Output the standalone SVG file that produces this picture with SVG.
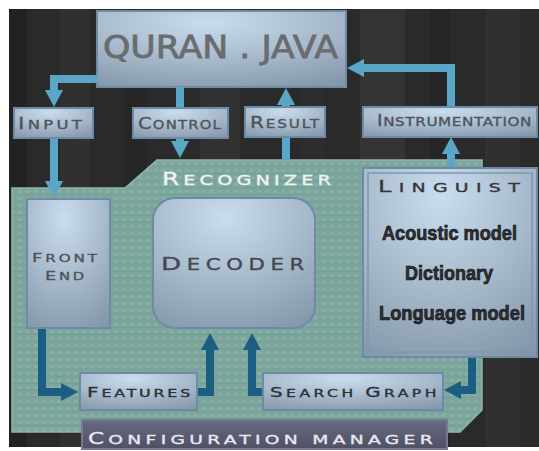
<svg xmlns="http://www.w3.org/2000/svg" width="539" height="451" viewBox="0 0 539 451">
<style>
.lbl{font-family:"DejaVu Sans",sans-serif;fill:#505459;stroke:#505459;stroke-width:0.35;}
.dark{fill:#2e3034;stroke:#2e3034;}
.ling{font-family:"Liberation Sans",Arial,sans-serif;font-weight:bold;font-size:18px;fill:#2f3033;stroke:#111;stroke-width:0.6;}
.box{fill:url(#metal);stroke:#6e8ba6;stroke-width:2;}
.la{fill:none;stroke:#5aa6c7;stroke-width:8;}
.da{fill:none;stroke:#1c5e81;stroke-width:8;}
</style>
<defs>
<radialGradient id="metal" cx="0.45" cy="0.15" r="0.95">
<stop offset="0" stop-color="#c9ddef"/>
<stop offset="0.55" stop-color="#a5b8ca"/>
<stop offset="1" stop-color="#8597aa"/>
</radialGradient>
<linearGradient id="cfg" x1="0" y1="0" x2="0" y2="1">
<stop offset="0" stop-color="#676a80"/>
<stop offset="1" stop-color="#4f5064"/>
</linearGradient>
<pattern id="tex" width="8" height="7" patternUnits="userSpaceOnUse">
<rect width="8" height="7" fill="#7ca69d"/>
<rect x="1" y="1" width="5" height="3" rx="1.5" fill="#86afa6"/>
<rect x="0" y="5" width="8" height="1" fill="#74a096"/>
</pattern>
<marker id="ha" markerUnits="userSpaceOnUse" markerWidth="18" markerHeight="18" viewBox="0 0 18 18" refX="0" refY="9" orient="auto">
<path d="M0,0 L17,9 L0,18 Z" fill="#5aa6c7"/>
</marker>
<marker id="hd" markerUnits="userSpaceOnUse" markerWidth="18" markerHeight="18" viewBox="0 0 18 18" refX="0" refY="9" orient="auto">
<path d="M0,0 L17,9 L0,18 Z" fill="#1c5e81"/>
</marker>
</defs>
<rect width="539" height="451" fill="#ffffff"/>
<g id="background">
<rect x="9" y="9" width="530" height="438" fill="#2a2a2b"/>
<rect x="9" y="9" width="18" height="438" fill="#222223"/>
<rect x="60" y="9" width="30" height="438" fill="#303031"/>
<rect x="125" y="9" width="22" height="438" fill="#262627"/>
<rect x="200" y="9" width="40" height="438" fill="#323233"/>
<rect x="300" y="9" width="25" height="438" fill="#2c2c2d"/>
<rect x="360" y="9" width="45" height="438" fill="#343435"/>
<rect x="430" y="9" width="20" height="438" fill="#262627"/>
<rect x="485" y="9" width="35" height="438" fill="#303031"/>
</g>
<g id="recognizer">
<path d="M12,188 L125,188 L157,160 L482,160 L482,410 L460,432 L12,432 Z" fill="url(#tex)" stroke="#8fb6ad" stroke-width="1.5"/>
<text class="lbl" x="162" y="185" font-size="14" letter-spacing="3" style="fill:#eef2f2;stroke:#eef2f2" textLength="173" lengthAdjust="spacingAndGlyphs"><tspan font-size="18">R</tspan>ECOGNIZER</text>
</g>
<g id="quran">
<rect class="box" x="97" y="11" width="249" height="76"/>
<text x="103" y="58" font-family="DejaVu Sans,sans-serif" font-size="31.5" fill="#6a6c6e" stroke="#6a6c6e" stroke-width="0.8" textLength="235" lengthAdjust="spacingAndGlyphs">QURAN . JAVA</text>
</g>
<g id="connectors">
<path class="la" d="M98,79 H54 V90" marker-end="url(#ha)"/>
<path class="la" d="M54,138 V181" marker-end="url(#ha)"/>
<path class="la" d="M180,87 V108"/>
<path class="la" d="M180,137 V141" marker-end="url(#ha)"/>
<path class="la" d="M286,160 V136"/>
<path class="la" d="M286,108 V105" marker-end="url(#ha)"/>
<path class="la" d="M451,168 V154" marker-end="url(#ha)"/>
<path class="la" d="M451,107 V68 H364" marker-end="url(#ha)"/>
<path class="da" d="M42,328 V392 H61" marker-end="url(#hd)"/>
<path class="da" d="M196,392 H210 V350" marker-end="url(#hd)"/>
<path class="da" d="M264,392 H252 V350" marker-end="url(#hd)"/>
<path class="da" d="M472,357 V390 H461" marker-end="url(#hd)"/>
</g>
<g id="input">
<rect class="box" x="14" y="108" width="79" height="30"/>
<text class="lbl" x="18" y="129" font-size="12.5" letter-spacing="2.5" textLength="67" lengthAdjust="spacingAndGlyphs"><tspan font-size="16.5">I</tspan>NPUT</text>
</g>
<g id="control">
<rect class="box" x="133" y="108" width="95" height="30"/>
<text class="lbl" x="138" y="129" font-size="12.5" letter-spacing="1" textLength="84" lengthAdjust="spacingAndGlyphs"><tspan font-size="16.5">C</tspan>ONTROL</text>
</g>
<g id="result">
<rect class="box" x="245" y="107" width="80" height="30"/>
<text class="lbl" x="250" y="128" font-size="12.5" letter-spacing="1.5" textLength="71" lengthAdjust="spacingAndGlyphs"><tspan font-size="16.5">R</tspan>ESULT</text>
</g>
<g id="instrumentation">
<rect class="box" x="363" y="107" width="174" height="30"/>
<text class="lbl" x="377" y="126" font-size="12.5" letter-spacing="0.5" textLength="155" lengthAdjust="spacingAndGlyphs"><tspan font-size="15.5">I</tspan>NSTRUMENTATION</text>
</g>
<g id="frontend">
<rect class="box" x="27" y="199" width="83" height="129"/>
<text class="lbl" x="32" y="262" font-size="10.5" letter-spacing="2" textLength="68" lengthAdjust="spacingAndGlyphs"><tspan font-size="12.5">F</tspan>RONT</text>
<text class="lbl" x="45" y="280" font-size="10.5" letter-spacing="2" textLength="42" lengthAdjust="spacingAndGlyphs"><tspan font-size="12.5">E</tspan>ND</text>
</g>
<g id="decoder">
<rect class="box" x="153" y="198" width="162" height="130" rx="22" ry="22"/>
<text class="lbl" x="161" y="270" font-size="15" letter-spacing="4" style="fill:#45484d;stroke:#45484d" textLength="149" lengthAdjust="spacingAndGlyphs"><tspan font-size="18.5">D</tspan>ECODER</text>
</g>
<g id="linguist">
<rect class="box" x="363" y="168" width="174" height="189"/>
<rect x="368" y="173" width="164" height="179" fill="none" stroke="#7d98b0" stroke-width="1.5"/>
<text class="lbl" x="378" y="192" font-size="13" letter-spacing="5" style="fill:#35373b;stroke:#35373b" textLength="149" lengthAdjust="spacingAndGlyphs"><tspan font-size="16.5">L</tspan>INGUIST</text>
<text class="ling" transform="translate(382,240) scale(1,1.17)" x="0" y="0" textLength="135" lengthAdjust="spacingAndGlyphs">Acoustic model</text>
<text class="ling" transform="translate(405,280) scale(1,1.17)" x="0" y="0" textLength="88" lengthAdjust="spacingAndGlyphs">Dictionary</text>
<text class="ling" transform="translate(379,320) scale(1,1.17)" x="0" y="0" textLength="146" lengthAdjust="spacingAndGlyphs">Longuage model</text>
</g>
<g id="features">
<rect class="box" x="80" y="373" width="117" height="37"/>
<text class="lbl dark" x="87" y="397" font-size="11" letter-spacing="2" textLength="106" lengthAdjust="spacingAndGlyphs"><tspan font-size="14">F</tspan>EATURES</text>
</g>
<g id="searchgraph">
<rect class="box" x="263" y="373" width="180" height="37"/>
<text class="lbl dark" x="270" y="397" font-size="11" letter-spacing="2.5" textLength="170" lengthAdjust="spacingAndGlyphs"><tspan font-size="14">S</tspan>EARCH <tspan font-size="14">G</tspan>RAPH</text>
</g>
<g id="configmanager">
<rect x="82" y="420" width="365" height="29" fill="url(#cfg)" stroke="#707a92" stroke-width="2"/>
<text class="lbl" x="88" y="444" font-size="13" letter-spacing="3" style="fill:#e6e8ee;stroke:#e6e8ee" textLength="349" lengthAdjust="spacingAndGlyphs"><tspan font-size="16">C</tspan>ONFIGURATION MANAGER</text>
</g>
</svg>
